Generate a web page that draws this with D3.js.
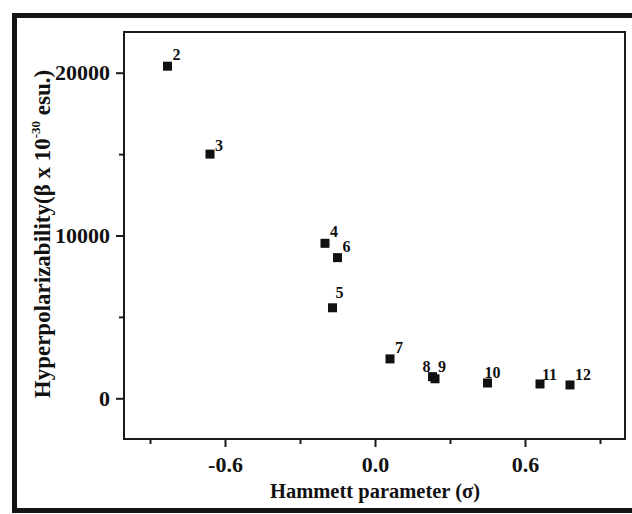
<!DOCTYPE html>
<html>
<head>
<meta charset="utf-8">
<script src="https://cdn.jsdelivr.net/npm/d3@7"></script>
<style>
  html, body { margin: 0; padding: 0; background: #ffffff; }
  svg { display: block; }
  text { font-family: "Liberation Serif", "Times New Roman", serif; font-weight: bold; fill: #111111; }
</style>
</head>
<body>
<script>
// ---- data ----
const compounds = ["2", "3", "4", "5", "6", "7", "8", "9", "10", "11", "12"];
const sigma = [-0.83, -0.66, -0.20, -0.17, -0.15, 0.06, 0.23, 0.24, 0.45, 0.66, 0.78];
const beta = [20400, 15000, 9520, 5560, 8640, 2420, 1330, 1200, 940, 880, 820];
const xMajorTicks = [-0.6, 0.0, 0.6];
const xMajorLabels = ["-0.6", "0.0", "0.6"];
const xMinorTicks = [-0.9, -0.3, 0.3, 0.9];
const yMajorTicks = [0, 10000, 20000];
const yMajorLabels = ["0", "10000", "20000"];
const yMinorTicks = [5000, 15000];

// ---- layout (not data) ----
const W = 632, H = 514;
const frame = { left: 124, right: 625, top: 32, bottom: 439 };
const labelOffset = {
  default: { dx: 5, dy: -6, anchor: "start" },
  "5": { dx: 3, dy: -10, anchor: "start" },
  "3": { dx: 5, dy: -3, anchor: "start" },
  "8": { dx: -2, dy: -5, anchor: "end" },
  "9": { dx: 3, dy: -7, anchor: "start" },
  "10": { dx: -3, dy: -5, anchor: "start" },
  "11": { dx: 2, dy: -4, anchor: "start" },
  "12": { dx: 5, dy: -5, anchor: "start" }
};

const svg = d3.select("body").append("svg").attr("width", W).attr("height", H);

svg.append("rect").attr("width", W).attr("height", H).attr("fill", "#ffffff");

// outer thick border
svg.append("rect")
  .attr("x", 14.5).attr("y", 15.5).attr("width", 640).attr("height", 495)
  .attr("fill", "none").attr("stroke", "#151515").attr("stroke-width", 5);

const x = d3.scaleLinear().domain([-1.0, 1.0]).range([125, frame.right]);
const y = d3.scaleLinear().domain([-2500, 22500]).range([frame.bottom, frame.top]);

// axes
const xAxisMajor = d3.axisBottom(x).tickValues(xMajorTicks).tickSize(8).tickPadding(9)
  .tickFormat((d, i) => xMajorLabels[i]);
const xAxisMinor = d3.axisBottom(x).tickValues(xMinorTicks).tickSize(5).tickFormat("");
const yAxisMajor = d3.axisLeft(y).tickValues(yMajorTicks).tickSize(8).tickPadding(6)
  .tickFormat((d, i) => yMajorLabels[i]);
const yAxisMinor = d3.axisLeft(y).tickValues(yMinorTicks).tickSize(5).tickFormat("");

function styleAxis(g) {
  g.select(".domain").remove();
  g.selectAll(".tick line").attr("stroke", "#1a1a1a").attr("stroke-width", 2);
  g.selectAll(".tick text").style("font-family", '"Liberation Serif", serif')
    .style("font-weight", "bold").style("font-size", "22px").attr("fill", "#111111");
}

svg.append("g").attr("transform", `translate(0,${frame.bottom})`).call(xAxisMajor).call(styleAxis);
svg.append("g").attr("transform", `translate(0,${frame.bottom})`).call(xAxisMinor).call(styleAxis);
svg.append("g").attr("transform", `translate(${frame.left},0)`).call(yAxisMajor).call(styleAxis);
svg.append("g").attr("transform", `translate(${frame.left},0)`).call(yAxisMinor).call(styleAxis);

// frame
svg.append("rect")
  .attr("x", frame.left).attr("y", frame.top)
  .attr("width", frame.right - frame.left).attr("height", frame.bottom - frame.top)
  .attr("fill", "none").attr("stroke", "#1a1a1a").attr("stroke-width", 2);

// points
const pts = compounds.map((c, i) => ({ c, sx: sigma[i], b: beta[i] }));
const sq = 9;
svg.append("g").selectAll("rect").data(pts).join("rect")
  .attr("x", d => x(d.sx) - sq / 2).attr("y", d => y(d.b) - sq / 2)
  .attr("width", sq).attr("height", sq).attr("fill", "#111111");

svg.append("g").selectAll("text").data(pts).join("text")
  .attr("x", d => x(d.sx) + (labelOffset[d.c] || labelOffset.default).dx)
  .attr("y", d => y(d.b) + (labelOffset[d.c] || labelOffset.default).dy)
  .attr("text-anchor", d => (labelOffset[d.c] || labelOffset.default).anchor)
  .style("font-size", "16px")
  .text(d => d.c);

// axis titles
svg.append("text")
  .attr("x", 375).attr("y", 498)
  .attr("text-anchor", "middle")
  .style("font-size", "20.5px")
  .text("Hammett parameter (σ)");

const yt = svg.append("text")
  .attr("transform", "translate(50,234) rotate(-90)")
  .attr("text-anchor", "middle")
  .style("font-size", "23px");
yt.append("tspan").text("Hyperpolarizability(β x 10");
yt.append("tspan").attr("dy", -10).style("font-size", "13px").text("-30");
yt.append("tspan").attr("dy", 10).text(" esu.)");
</script>
</body>
</html>
